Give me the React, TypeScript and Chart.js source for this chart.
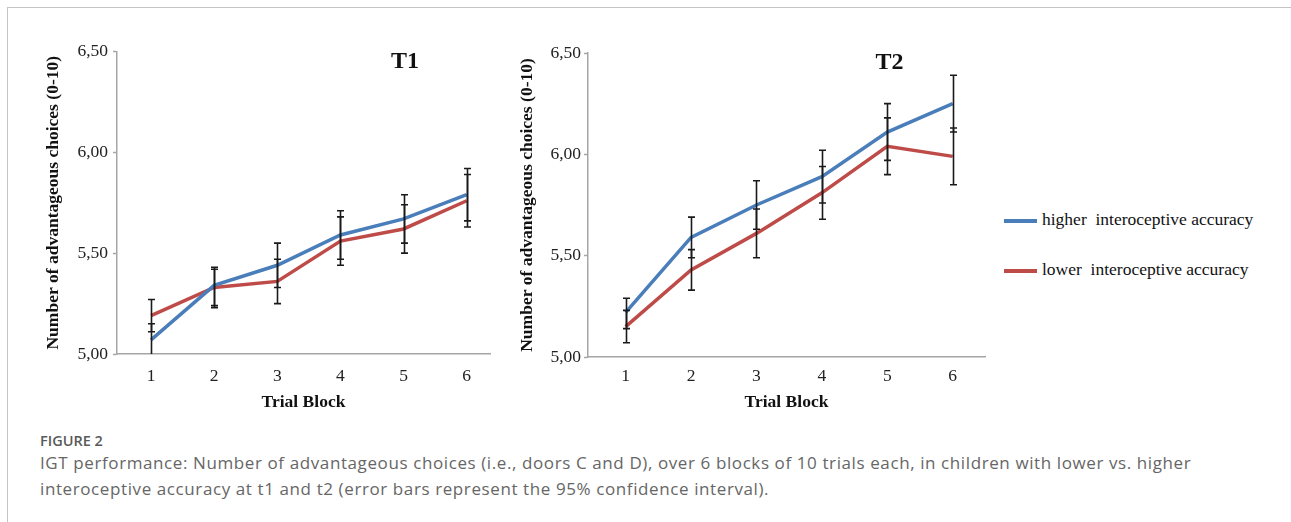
import React, { useEffect, useRef } from 'react';
import { Chart, registerables } from 'chart.js';

Chart.register(...registerables);

// ---------- data ----------
const blocks = [1, 2, 3, 4, 5, 6];
const yTicks = [5.0, 5.5, 6.0, 6.5];
const seriesNames = ['higher  interoceptive accuracy', 'lower  interoceptive accuracy'];

// T1
const t1Higher = [5.07, 5.34, 5.44, 5.59, 5.67, 5.79];
const t1HigherLow = [4.99, 5.24, 5.33, 5.47, 5.55, 5.66];
const t1HigherHigh = [5.15, 5.43, 5.55, 5.71, 5.79, 5.92];
const t1Lower = [5.19, 5.33, 5.36, 5.56, 5.62, 5.76];
const t1LowerLow = [5.11, 5.23, 5.25, 5.44, 5.5, 5.63];
const t1LowerHigh = [5.27, 5.42, 5.47, 5.68, 5.74, 5.89];

// T2
const t2Higher = [5.22, 5.59, 5.75, 5.89, 6.11, 6.25];
const t2HigherLow = [5.14, 5.49, 5.63, 5.76, 5.97, 6.11];
const t2HigherHigh = [5.29, 5.69, 5.87, 6.02, 6.25, 6.39];
const t2Lower = [5.15, 5.43, 5.61, 5.81, 6.04, 5.99];
const t2LowerLow = [5.07, 5.33, 5.49, 5.68, 5.9, 5.85];
const t2LowerHigh = [5.23, 5.53, 5.73, 5.94, 6.18, 6.13];

// ---------- styles ----------
const BLUE = '#4a7ebb';
const RED = '#be4b48';
const AXIS = '#a6a6a6';
const SERIF = '"Liberation Serif", "Times New Roman", serif';
const SANS = '"Open Sans", "Noto Sans", sans-serif';

const errorBarPlugin = {
  id: 'errorBars',
  afterDatasetsDraw(chart: any) {
    const { ctx, chartArea, scales } = chart;
    const x = scales.x;
    const y = scales.y;
    ctx.save();
    ctx.beginPath();
    ctx.rect(chartArea.left, chartArea.top - 1, chartArea.right - chartArea.left, chartArea.bottom - chartArea.top + 1);
    ctx.clip();
    ctx.strokeStyle = '#1a1a1a';
    ctx.lineWidth = 1.6;
    chart.data.datasets.forEach((ds: any) => {
      const lows: number[] = ds.errLow || [];
      const highs: number[] = ds.errHigh || [];
      ds.data.forEach((pt: any, i: number) => {
        const px = Math.round(x.getPixelForValue(pt.x)) + 0.5;
        const pl = y.getPixelForValue(lows[i]);
        const ph = y.getPixelForValue(highs[i]);
        ctx.beginPath();
        ctx.moveTo(px, pl);
        ctx.lineTo(px, ph);
        ctx.moveTo(px - 3.5, ph);
        ctx.lineTo(px + 3.5, ph);
        ctx.moveTo(px - 3.5, pl);
        ctx.lineTo(px + 3.5, pl);
        ctx.stroke();
      });
    });
    ctx.restore();
  },
};

const panelLabelPlugin = {
  id: 'panelLabel',
  afterDraw(chart: any, _args: any, opts: any) {
    const { ctx, chartArea } = chart;
    ctx.save();
    ctx.font = `bold 24px ${SERIF}`;
    ctx.fillStyle = '#111';
    ctx.textAlign = 'center';
    ctx.textBaseline = 'middle';
    ctx.fillText(opts.text, chartArea.left + opts.dx, chartArea.top + opts.dy);
    ctx.restore();
  },
};

type PanelProps = {
  label: string;
  higher: number[];
  higherLow: number[];
  higherHigh: number[];
  lower: number[];
  lowerLow: number[];
  lowerHigh: number[];
  left: number;
  top: number;
  width: number;
  height: number;
  yAxisWidth: number;
  xAxisHeight: number;
  padTop: number;
  padRight: number;
  yTitlePad: number;
  xTickPad: number;
  yTickPad: number;
  xMin: number;
  xMax: number;
  labelDx: number;
  labelDy: number;
};

function Panel(p: PanelProps) {
  const ref = useRef<HTMLCanvasElement | null>(null);
  useEffect(() => {
    if (!ref.current) return;
    const chart = new Chart(ref.current, {
      type: 'line',
      data: {
        datasets: [
          {
            label: seriesNames[0],
            data: blocks.map((b, i) => ({ x: b, y: p.higher[i] })),
            borderColor: BLUE,
            backgroundColor: BLUE,
            borderWidth: 3.5,
            pointRadius: 0,
            tension: 0,
            errLow: p.higherLow,
            errHigh: p.higherHigh,
          } as any,
          {
            label: seriesNames[1],
            data: blocks.map((b, i) => ({ x: b, y: p.lower[i] })),
            borderColor: RED,
            backgroundColor: RED,
            borderWidth: 3.5,
            pointRadius: 0,
            tension: 0,
            errLow: p.lowerLow,
            errHigh: p.lowerHigh,
          } as any,
        ],
      },
      options: {
        animation: false,
        responsive: false,
        maintainAspectRatio: false,
        layout: { padding: { left: 0, top: p.padTop, right: p.padRight, bottom: 0 } },
        plugins: {
          legend: { display: false },
          tooltip: { enabled: false },
          panelLabel: { text: p.label, dx: p.labelDx, dy: p.labelDy },
        } as any,
        scales: {
          x: {
            type: 'linear',
            min: p.xMin,
            max: p.xMax,
            afterBuildTicks: (s: any) => {
              s.ticks = blocks.map((v) => ({ value: v }));
            },
            afterFit: (s: any) => {
              s.height = p.xAxisHeight;
            },
            ticks: {
              autoSkip: false,
              maxRotation: 0,
              padding: p.xTickPad,
              color: '#222',
              font: { family: SERIF, size: 17.5 },
              callback: (v: any) => String(v),
            },
            grid: { display: true, drawOnChartArea: false, drawTicks: false, color: AXIS },
            border: { display: true, color: AXIS, width: 1.5 },
            title: {
              display: true,
              text: 'Trial Block',
              color: '#111',
              font: { family: SERIF, size: 17.5, weight: 'bold' },
              padding: { top: 0, bottom: 4 },
            },
          },
          y: {
            type: 'linear',
            min: 5,
            max: 6.5,
            afterBuildTicks: (s: any) => {
              s.ticks = yTicks.map((v) => ({ value: v }));
            },
            afterFit: (s: any) => {
              s.width = p.yAxisWidth;
            },
            ticks: {
              padding: p.yTickPad,
              color: '#222',
              font: { family: SERIF, size: 17.5 },
              callback: (v: any) => Number(v).toFixed(2).replace('.', ','),
            },
            grid: { display: true, drawOnChartArea: false, drawTicks: true, tickLength: 4, color: AXIS, tickWidth: 1.5 },
            border: { display: true, color: AXIS, width: 1.5 },
            title: {
              display: true,
              text: 'Number of advantageous choices (0-10)',
              color: '#111',
              font: { family: SERIF, size: 17.5, weight: 'bold' },
              padding: { top: p.yTitlePad, bottom: 0 },
            },
          },
        },
      } as any,
      plugins: [errorBarPlugin, panelLabelPlugin],
    });
    return () => chart.destroy();
  }, []);
  return (
    <canvas
      ref={ref}
      width={p.width}
      height={p.height}
      style={{ position: 'absolute', left: p.left, top: p.top, width: p.width, height: p.height }}
    />
  );
}

export default function App() {
  return (
    <div
      style={{
        position: 'absolute',
        left: 0,
        top: 0,
        width: 1291,
        height: 522,
        background: '#fff',
        overflow: 'hidden',
      }}
    >
      <div
        style={{
          position: 'absolute',
          left: 7,
          top: 7,
          width: 1291,
          height: 522,
          borderLeft: '1px solid #c4c4c4',
          borderTop: '1px solid #c4c4c4',
        }}
      />
      <Panel
        label="T1"
        higher={t1Higher}
        higherLow={t1HigherLow}
        higherHigh={t1HigherHigh}
        lower={t1Lower}
        lowerLow={t1LowerLow}
        lowerHigh={t1LowerHigh}
        left={30}
        top={36}
        width={470}
        height={381}
        yAxisWidth={87}
        xAxisHeight={63}
        padTop={14}
        padRight={10}
        yTitlePad={13}
        xTickPad={12}
        yTickPad={5}
        xMin={0.461}
        xMax={6.369}
        labelDx={288}
        labelDy={10}
      />
      <Panel
        label="T2"
        higher={t2Higher}
        higherLow={t2HigherLow}
        higherHigh={t2HigherHigh}
        lower={t2Lower}
        lowerLow={t2LowerLow}
        lowerHigh={t2LowerHigh}
        left={500}
        top={36}
        width={500}
        height={381}
        yAxisWidth={88}
        xAxisHeight={60}
        padTop={17}
        padRight={15}
        yTitlePad={16.5}
        xTickPad={9}
        yTickPad={3}
        xMin={0.424}
        xMax={6.494}
        labelDx={301.5}
        labelDy={10}
      />
      {/* legend */}
      <div style={{ position: 'absolute', left: 1004, top: 219, width: 33, height: 4, background: BLUE }} />
      <div
        style={{
          position: 'absolute',
          left: 1042,
          top: 207,
          font: `17.5px ${SERIF}`,
          lineHeight: '24px',
          whiteSpace: 'pre',
          color: '#111',
        }}
      >
        {seriesNames[0]}
      </div>
      <div style={{ position: 'absolute', left: 1004, top: 269, width: 33, height: 4, background: RED }} />
      <div
        style={{
          position: 'absolute',
          left: 1042,
          top: 257,
          font: `17.5px ${SERIF}`,
          lineHeight: '24px',
          whiteSpace: 'pre',
          color: '#111',
        }}
      >
        {seriesNames[1]}
      </div>
      {/* caption */}
      <div
        style={{
          position: 'absolute',
          left: 40,
          top: 431,
          font: `600 14.5px ${SANS}`,
          lineHeight: '20px',
          color: '#5a5a5a',
          whiteSpace: 'nowrap',
        }}
      >
        FIGURE 2
      </div>
      <div
        style={{
          position: 'absolute',
          left: 40,
          top: 450,
          font: `17px ${SANS}`,
          lineHeight: '25.5px',
          letterSpacing: '0.6px',
          color: '#666',
          whiteSpace: 'nowrap',
        }}
      >
        IGT performance: Number of advantageous choices (i.e., doors C and D), over 6 blocks of 10 trials each, in children with lower vs. higher
        <br />
        interoceptive accuracy at t1 and t2 (error bars represent the 95% confidence interval).
      </div>
    </div>
  );
}
